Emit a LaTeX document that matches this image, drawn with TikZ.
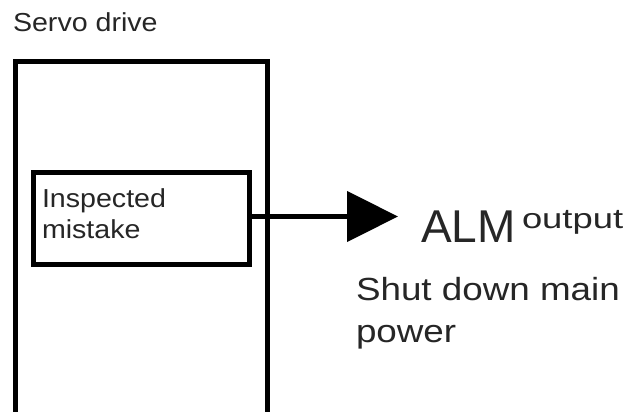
\documentclass[tikz,border=0pt]{standalone}
\usepackage{fontspec}
\setmainfont{Liberation Sans}
\newfontfamily\fsmall[FakeStretch=1.1]{Liberation Sans}
\newfontfamily\falm{Liberation Sans}
\newfontfamily\fout[FakeStretch=1.3]{Liberation Sans}
\newfontfamily\fshut[FakeStretch=1.15]{Liberation Sans}
\usetikzlibrary{arrows.meta}
\tikzset{
  box/.style={draw=black, line width=5pt, rectangle, inner sep=0pt, outer sep=0pt},
  lbl/.style={inner sep=0pt, outer sep=0pt, anchor=base west, text=black!85, align=left},
}
\begin{document}
\begin{tikzpicture}[x=1pt,y=-1pt]
\useasboundingbox (0,0) rectangle (633,412);
\clip (0,0) rectangle (633,412);
\fill[white] (0,0) rectangle (633,412);
% outer box (open beyond the bottom edge)
\node[box, minimum width=252.5pt, minimum height=380pt, anchor=north west] (outer) at (15,61.5) {};
% inner box
\node[box, minimum width=216pt, minimum height=92pt, anchor=north west] (inner) at (33,172.5) {};
\coordinate (tip) at (398,216.5);
\draw[line width=4.5pt, -{Triangle[length=51pt,width=50pt]}] (inner.east |- tip) -- (tip);
% labels
\node[lbl, font=\fsmall\fontsize{26}{31}\selectfont] (servo) at (13,32) {Servo drive};
\node[lbl, font=\fsmall\fontsize{26}{31}\selectfont] (insp) at (42,238) {Inspected\\mistake};
\node[lbl, font=\falm\fontsize{46}{50}\selectfont] (alm) at (421,243) {ALM};
\node[lbl, font=\fout\fontsize{28}{32}\selectfont] (out) at (522,228) {output};
\node[lbl, font=\fshut\fontsize{32}{42}\selectfont] (shut) at (356,342) {Shut down main\\power};
\end{tikzpicture}
\end{document}
